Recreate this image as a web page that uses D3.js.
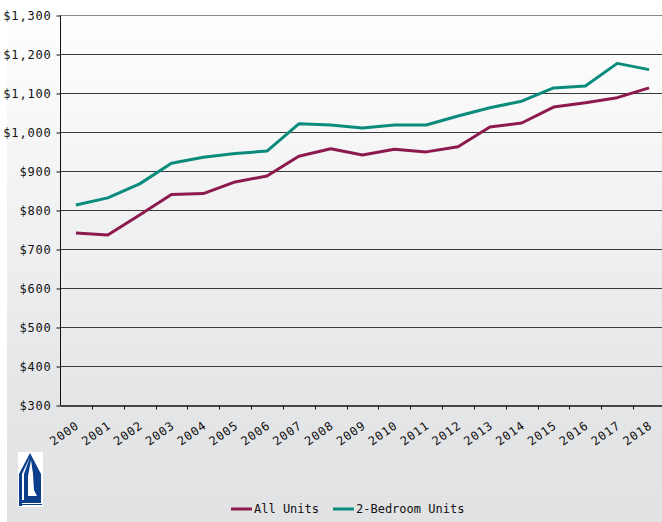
<!DOCTYPE html>
<html lang="en">
<head>
    <meta charset="utf-8">
    <title>Median Rent</title>
    <script src="https://d3js.org/d3.v7.min.js"></script>
    <style>
        body{
            margin: 0;
            background: #fff;
        }
        .tickT{
            font-family: "DejaVu Sans Mono", monospace;
            font-size: 12px;
            letter-spacing: 0.8px;
            fill: #111;
        }
        .legendT{
            font-family: "DejaVu Sans Mono", monospace;
            font-size: 12px;
            fill: #111;
        }
        .line{
            fill: none;
            stroke-width: 3px;
            stroke-linejoin: round;
        }
    </style>
</head>
<body>
    <div id="container"></div>
    <script type="text/javascript">
        // values
        var years = ['2000','2001','2002','2003','2004','2005','2006','2007','2008','2009',
                     '2010','2011','2012','2013','2014','2015','2016','2017','2018'];
        var allUnits = [741, 736, 787, 840, 842, 872, 887, 938, 957, 941,
                        956, 949, 962, 1013, 1023, 1064, 1075, 1088, 1113];
        var bedroom2 = [813, 831, 867, 920, 935, 945, 951, 1021, 1018, 1010,
                        1018, 1018, 1041, 1062, 1079, 1113, 1118, 1176, 1160];
        var yTicks = [300, 400, 500, 600, 700, 800, 900, 1000, 1100, 1200, 1300];
        var seriesNames = ['All Units', '2-Bedroom Units'];
        var color = ['#8c1a4f', '#0b8b7c'];

        var width = 662, height = 522;
        var margin = {top: 15, left: 60, right: -3, bottom: 117};

        var svg = d3.select('#container')
                    .append('svg')
                    .attr('width', width)
                    .attr('height', height);

        var defs = svg.append('defs');
        var grad = defs.append('linearGradient')
                       .attr('id', 'bg')
                       .attr('x1', 0).attr('y1', 0).attr('x2', 0).attr('y2', 1);
        grad.append('stop').attr('offset', '0%').attr('stop-color', '#ffffff');
        grad.append('stop').attr('offset', '75%').attr('stop-color', '#e5e6e8');
        grad.append('stop').attr('offset', '100%').attr('stop-color', '#e1e2e4');

        svg.append('rect')
           .attr('x', 7).attr('y', 0)
           .attr('width', width - 7).attr('height', height)
           .attr('fill', 'url(#bg)');

        var x = d3.scaleBand()
                  .domain(years)
                  .range([margin.left, width - margin.right]);
        var y = d3.scaleLinear()
                  .domain([300, 1300])
                  .range([height - margin.bottom, margin.top]);

        // grid lines
        svg.append('g')
           .selectAll('line')
           .data(yTicks.slice(1))
           .enter()
           .append('line')
           .attr('x1', margin.left)
           .attr('x2', width)
           .attr('y1', d => Math.round(y(d)) + 0.5)
           .attr('y2', d => Math.round(y(d)) + 0.5)
           .attr('stroke', (d, i) => d == 1300 ? '#8a8a8a' : '#3a3a3a')
           .attr('stroke-width', 1);

        // y axis
        var yAxis = d3.axisLeft(y)
                      .tickValues(yTicks)
                      .tickSize(4)
                      .tickPadding(5)
                      .tickFormat(d => '$' + d3.format(',')(d));
        var gy = svg.append('g')
                    .attr('transform', 'translate(' + (margin.left + 0.5) + ',0.5)')
                    .call(yAxis);
        gy.select('.domain').attr('stroke', '#111').attr('d', 'M0,' + Math.round(y(1300)) + 'V' + Math.round(y(300)));
        gy.selectAll('.tick line').attr('stroke', '#111');
        gy.selectAll('.tick text').attr('class', 'tickT');

        // x axis, ticks sit between the years
        var xAxis = d3.axisBottom(x)
                      .tickSize(0)
                      .tickPadding(0);
        var gx = svg.append('g')
                    .attr('transform', 'translate(0,' + (Math.round(y(300)) + 0.5) + ')')
                    .call(xAxis);
        gx.select('.domain').attr('stroke', '#111').attr('stroke-width', 1.5);
        gx.selectAll('.tick text')
          .attr('class', 'tickT')
          .attr('text-anchor', 'end')
          .attr('dy', 0)
          .attr('transform', 'translate(4,22) rotate(-35)');
        gx.selectAll('.sep')
          .data(years.slice(1))
          .enter()
          .append('line')
          .attr('class', 'sep')
          .attr('x1', d => Math.round(x(d)) + 0.5)
          .attr('x2', d => Math.round(x(d)) + 0.5)
          .attr('y1', 0)
          .attr('y2', 4)
          .attr('stroke', '#111');

        // series lines
        var data = years.map((yr, i) => ({yr: yr, a: allUnits[i], b: bedroom2[i]}));
        var lineA = d3.line().x(d => x(d.yr) + x.bandwidth() / 2).y(d => y(d.a));
        var lineB = d3.line().x(d => x(d.yr) + x.bandwidth() / 2).y(d => y(d.b));
        svg.selectAll('.line')
           .data([lineA(data), lineB(data)])
           .enter()
           .append('path')
           .attr('class', 'line')
           .attr('stroke', (d, i) => color[i])
           .attr('d', d => d);

        // legend
        var legX = [231, 333];
        var leg = svg.append('g').attr('transform', 'translate(0,509)');
        seriesNames.forEach(function(name, i){
            leg.append('line')
               .attr('x1', legX[i]).attr('x2', legX[i] + 21)
               .attr('y1', 0).attr('y2', 0)
               .attr('stroke', color[i])
               .attr('stroke-width', 3);
            leg.append('text')
               .attr('class', 'legendT')
               .attr('x', legX[i] + 23)
               .attr('y', 4)
               .text(name);
        });

        // logo
        var logo = svg.append('g').attr('transform', 'translate(18,452)');
        logo.append('rect').attr('width', 25).attr('height', 55).attr('fill', '#fff');
        logo.append('path')
            .attr('d', 'M12,1 L23,22 L23,51 L4,51 L4,54 L1,54 L1,22 Z')
            .attr('fill', '#0b3f8c');
        logo.append('path')
            .attr('d', 'M12,5 L4,22 L4,48 L6,48 L6,22 Z')
            .attr('fill', '#fff');
        logo.append('path')
            .attr('d', 'M13,8 L15,22 L16,38 L19,44 L10,44 L10,24 Z')
            .attr('fill', '#fff');
        logo.append('line')
            .attr('x1', 4).attr('x2', 24).attr('y1', 52.5).attr('y2', 52.5)
            .attr('stroke', '#0b3f8c').attr('stroke-width', 1);
    </script>
</body>
</html>
